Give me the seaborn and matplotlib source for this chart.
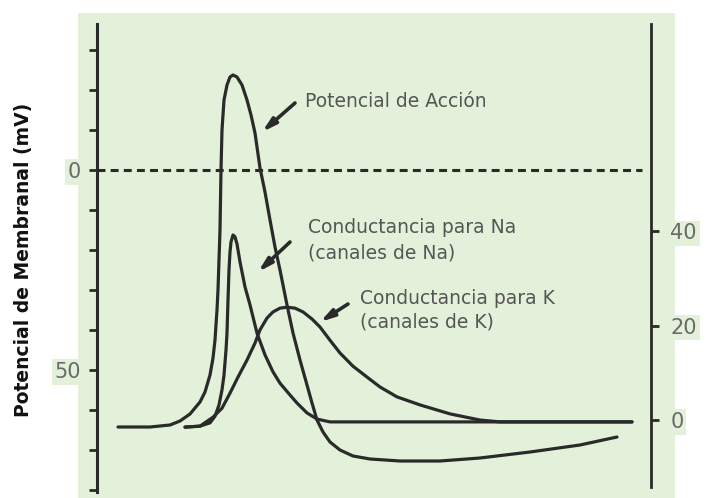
import numpy as np
import pandas as pd
import matplotlib
matplotlib.use("Agg")
import matplotlib.pyplot as plt
from matplotlib.patches import Rectangle
import seaborn as sns

# --- data -----------------------------------------------------------------
# action potential: time (ms) and membrane potential (mV)
t_ap = [0.00, 0.64, 0.84, 1.04, 1.24, 1.44, 1.64, 1.74, 1.84, 1.90, 1.94, 1.98,
        2.00, 2.02, 2.04, 2.06, 2.08, 2.12, 2.18, 2.24, 2.30, 2.38, 2.48, 2.58,
        2.66, 2.74, 2.84, 2.94, 3.04, 3.14, 3.24, 3.38, 3.50, 3.64, 3.78, 3.88,
        3.98, 4.10, 4.24, 4.44, 4.70, 5.04, 5.64, 6.44, 7.24, 8.24, 9.24, 9.98]
v_ap = [-64.25, -64.25, -64.0, -63.75, -62.75, -61.0, -58.0, -55.5, -51.25,
        -47.0, -42.5, -35.0, -30.0, -22.5, -15.0, 0.0, 10.0, 17.5, 21.25, 23.25,
        23.75, 23.25, 21.25, 17.5, 13.75, 9.25, 0.5, -5.5, -12.5, -19.25, -25.0,
        -33.75, -40.75, -47.5, -53.75, -58.25, -62.5, -65.5, -68.0, -70.0,
        -71.5, -72.25, -72.75, -72.75, -72.0, -70.5, -68.75, -66.75]

# sodium conductance (right scale)
t_na = [1.34, 1.64, 1.84, 1.94, 2.02, 2.08, 2.12, 2.16, 2.18, 2.20, 2.22, 2.24,
        2.26, 2.30, 2.34, 2.38, 2.44, 2.54, 2.64, 2.78, 2.94, 3.10, 3.24, 3.44,
        3.58, 3.78, 3.98, 4.24, 10.28]
g_na = [-1.5, -1.3, -0.6, 0.8, 3.2, 6.4, 9.5, 14.8, 18.4, 25.4, 31.8, 35.6,
        37.7, 39.2, 38.8, 37.3, 33.5, 28.2, 24.4, 18.4, 13.8, 10.2, 7.8, 5.3,
        3.6, 1.5, 0.2, -0.4, -0.4]

# potassium conductance (right scale)
t_k = [1.34, 1.64, 1.90, 2.08, 2.24, 2.40, 2.58, 2.74, 2.84, 2.98, 3.10, 3.24,
       3.38, 3.54, 3.70, 3.88, 4.04, 4.24, 4.44, 4.70, 4.98, 5.24, 5.58, 6.04,
       6.64, 7.24, 7.64, 10.28]
g_k = [-1.5, -1.3, 0.6, 2.5, 5.7, 9.1, 12.7, 16.3, 19.1, 21.6, 22.9, 23.7,
       23.9, 23.7, 22.9, 21.4, 19.7, 16.9, 14.2, 11.4, 9.1, 7.0, 4.9, 3.2,
       1.3, 0.0, -0.4, -0.4]

left_ticks = list(range(-80, 31, 10))
left_labels = {0: "0", -50: "50"}
right_ticks = [0, 20, 40]

ap = pd.DataFrame({"t": t_ap, "v": v_ap})
na = pd.DataFrame({"t": t_na, "g": g_na})
k = pd.DataFrame({"t": t_k, "g": g_k})

# --- style ----------------------------------------------------------------
sns.set_style("white")
plt.rcParams["font.family"] = ["DejaVu Sans"]

ink = "#2a2a2a"
panel = "#e3f1da"
label_grey = "#6a6a6a"
lw = 2.3
curve = dict(color=ink, lw=lw, estimator=None, solid_joinstyle="round",
             solid_capstyle="round")

fig = plt.figure(figsize=(7.07, 4.98), dpi=100)
fig.patch.set_facecolor("white")
fig.patches.append(Rectangle((78 / 707, 0), (675 - 78) / 707, (498 - 13) / 498,
                             transform=fig.transFigure, facecolor=panel,
                             edgecolor="none", zorder=-1))

ax = fig.add_axes([97 / 707, 1 - 492 / 498, (651 - 97) / 707, (492 - 24) / 498])
ax.set_facecolor("none")
ax2 = ax.twinx()

sns.lineplot(data=ap, x="t", y="v", ax=ax, **curve)
sns.lineplot(data=na, x="t", y="g", ax=ax2, **curve)
sns.lineplot(data=k, x="t", y="g", ax=ax2, **curve)

ax.set_xlim(-0.42, 10.66)
ax.set_ylim(-80.5, 36.5)
ax2.set_ylim(-15.25, 83.9)

# zero-potential reference
ax.axhline(0, xmin=0, xmax=0.984, color=ink, lw=2.2, ls=(0, (2.6, 1.7)))

for a in (ax, ax2):
    a.set_xlabel("")
    a.set_ylabel("")
    a.set_xticks([])
    for s in a.spines.values():
        s.set_visible(False)

ax.spines["left"].set_visible(True)
ax.spines["left"].set_color(ink)
ax.spines["left"].set_linewidth(2.2)
ax2.spines["right"].set_visible(True)
ax2.spines["right"].set_color(ink)
ax2.spines["right"].set_linewidth(2.0)
ax2.spines["right"].set_bounds(-14.2, 83.9)

ax.set_yticks(left_ticks)
ax.set_yticklabels([left_labels.get(v, "") for v in left_ticks])
ax.tick_params(axis="y", direction="out", length=5.5, width=2, color=ink,
               labelsize=15, labelcolor=label_grey, pad=6, left=True)
ax2.set_yticks(right_ticks)
ax2.set_yticklabels([str(v) for v in right_ticks])
ax2.tick_params(axis="y", direction="out", length=6, width=2, color=ink,
                labelsize=15, labelcolor=label_grey, pad=8, right=True)

for lbl in ax.get_yticklabels() + ax2.get_yticklabels():
    lbl.set_bbox(dict(facecolor=panel, edgecolor="none", pad=2))

# annotations
txt = dict(fontsize=13.5, color="#555555", va="center", ha="left")
ax.text(3.74, 17, "Potencial de Acción", **txt)
ax.text(3.80, -14.5, "Conductancia para Na", **txt)
ax.text(3.80, -20.75, "(canales de Na)", **txt)
ax.text(4.84, -32.0, "Conductancia para K", **txt)
ax.text(4.84, -38.0, "(canales de K)", **txt)

arrow = dict(arrowstyle="-|>,head_length=0.8,head_width=0.22", color=ink,
             lw=2.6, shrinkA=0, shrinkB=0)
ax.annotate("", xy=(2.88, 9.5), xytext=(3.54, 16.75), arrowprops=arrow)
ax.annotate("", xy=(2.80, -25.5), xytext=(3.44, -18.0), arrowprops=arrow)
ax.annotate("", xy=(4.04, -38.0), xytext=(4.60, -33.5), arrowprops=arrow)

fig.text(24 / 707, 1 - 260 / 498, "Potencial de Membranal (mV)", rotation=90,
         fontsize=13.5, fontweight="bold", color="#111111",
         ha="center", va="center")

fig.savefig("out.png", dpi=100, facecolor="white")
